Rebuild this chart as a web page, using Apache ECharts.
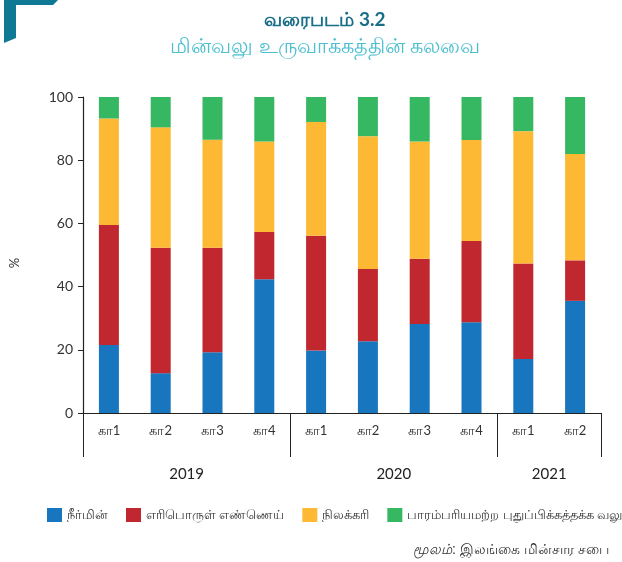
<!DOCTYPE html>
<html>
<head>
<meta charset="utf-8">
<script src="https://cdn.jsdelivr.net/npm/echarts@6/dist/echarts.min.js"></script>
<style>
  html, body { margin: 0; padding: 0; background: #fff; }
  #chart { width: 622px; height: 562px; }
</style>
</head>
<body>
<div id="chart"></div>
<script>
var quarters = ['கா1', 'கா2', 'கா3', 'கா4', 'கா1', 'கா2', 'கா3', 'கா4', 'கா1', 'கா2'];
var years = ['2019', '2020', '2021'];
var yearCentres = [2, 6, 9];
var yearBounds = [0, 4, 8, 10];

var seriesNames = ['நீர்மின்', 'எரிபொருள் எண்ணெய்', 'நிலக்கரி', 'பாரம்பரியமற்ற புதுப்பிக்கத்தக்க வலு'];
var hydro = [21.5, 12.6, 19.2, 42.3, 19.8, 22.7, 28.2, 28.7, 17.1, 35.5];
var oil   = [38.0, 39.7, 33.1, 15.0, 36.3, 22.9, 20.6, 25.7, 30.2, 12.8];
var coal  = [33.7, 38.1, 34.2, 28.6, 36.0, 42.0, 37.1, 32.0, 41.9, 33.7];
var ncre  = [6.8, 9.6, 13.5, 14.1, 7.9, 12.4, 14.1, 13.6, 10.8, 18.0];
var colors = ['#1876be', '#c1272f', '#fdb933', '#36b761'];

var myChart = echarts.init(document.getElementById('chart'));

var series = [];
[hydro, oil, coal, ncre].forEach(function (vals, i) {
    series.push({
        name: seriesNames[i],
        type: 'bar',
        stack: 'total',
        barWidth: 20,
        data: vals,
        itemStyle: { color: colors[i] }
    });
});

var option = {
    animation: false,
    textStyle: { fontFamily: 'Lato, sans-serif' },
    title: [
        {
            text: 'வரைபடம் 3.2',
            left: 320, top: 5, textAlign: 'center',
            textStyle: { fontSize: 19, fontWeight: 'bold', color: '#1a6f88' }
        },
        {
            text: 'மின்வலு உருவாக்கத்தின் கலவை',
            left: 320, top: 31, textAlign: 'center',
            textStyle: { fontSize: 21, fontWeight: 'normal', color: '#4cbfd0' }
        }
    ],
    graphic: [
        {
            type: 'polygon',
            shape: { points: [[4, 0], [58, 0], [53, 5], [16, 5], [16, 38], [4, 43]] },
            style: { fill: '#0f7894' }
        },
        {
            type: 'text',
            left: 413, top: 543,
            style: {
                text: '{i|மூலம்}: இலங்கை மின்சார சபை',
                rich: { i: { fontStyle: 'italic', fontSize: 14, fill: '#333' } },
                fontSize: 14, fill: '#333'
            }
        }
    ],
    legend: {
        data: seriesNames,
        left: 42, top: 503,
        width: 1200,
        itemWidth: 15, itemHeight: 14,
        itemGap: 18,
        icon: 'rect',
        textStyle: { fontSize: 13, color: '#333' }
    },
    grid: { left: 81, right: 21, top: 97, bottom: 149 },
    xAxis: [
        {
            type: 'category',
            data: quarters,
            axisLine: { lineStyle: { color: '#222', width: 1.2 } },
            axisTick: { interval: 0, length: 29, lineStyle: { color: '#222' } },
            axisLabel: { interval: 0, color: '#333', fontSize: 13, margin: 11 }
        },
        {
            type: 'value',
            position: 'bottom',
            min: 0, max: 10,
            axisLine: { show: false },
            splitLine: { show: false },
            axisTick: { show: true, customValues: yearBounds, length: 44, lineStyle: { color: '#222' } },
            axisLabel: {
                customValues: yearCentres,
                margin: 54,
                color: '#222', fontSize: 15,
                formatter: function (v) { return years[yearCentres.indexOf(v)]; }
            }
        }
    ],
    yAxis: {
        type: 'value',
        min: 0, max: 100, interval: 20,
        name: '%',
        nameLocation: 'middle',
        nameGap: 62,
        nameTextStyle: { color: '#333', fontSize: 13, padding: [0, 0, 0, -16] },
        splitLine: { show: false },
        axisLine: { show: true, lineStyle: { color: '#222', width: 1.2 } },
        axisTick: { show: true, length: 5, lineStyle: { color: '#222' } },
        axisLabel: { color: '#333', fontSize: 14, margin: 10 }
    },
    series: series
};

myChart.setOption(option);
</script>
</body>
</html>
